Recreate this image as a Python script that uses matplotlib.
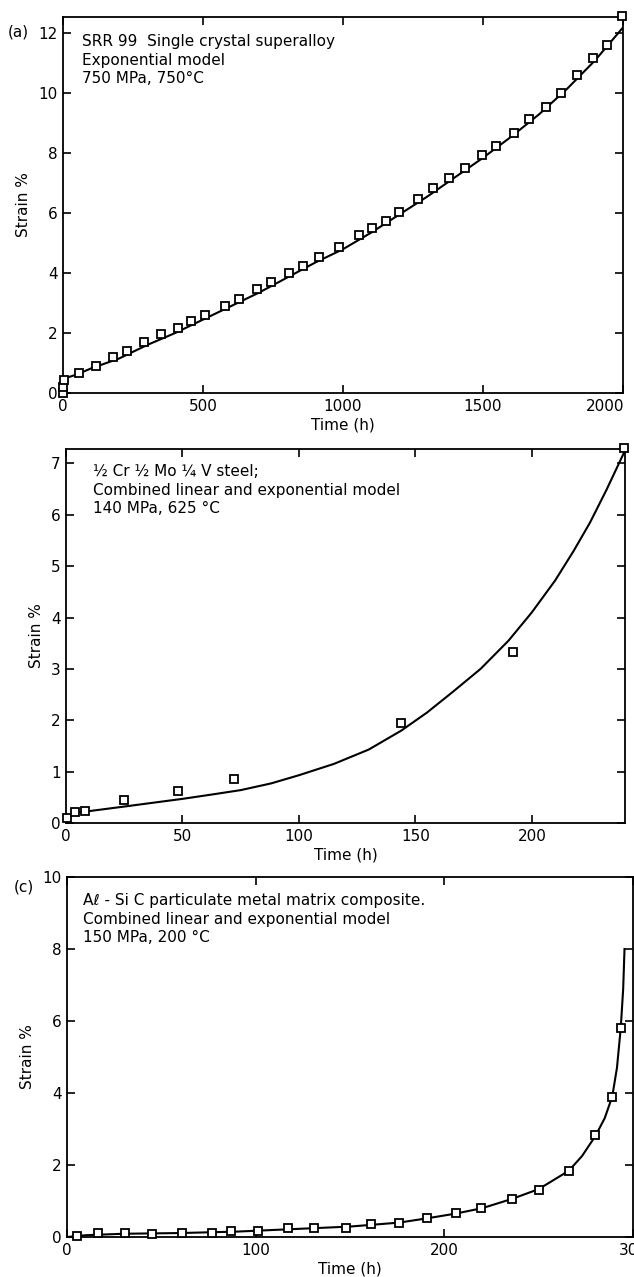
import matplotlib
matplotlib.use("Agg")
import matplotlib.pyplot as plt

# (a) SRR 99, exponential model
a_time = [0, 0.5, 2, 57, 117, 180, 228, 290, 350, 411, 457, 507, 578, 628, 692, 742,
          806, 856, 914, 986, 1057, 1104, 1153, 1200, 1268, 1321, 1379, 1436, 1496,
          1546, 1611, 1664, 1725, 1779, 1836, 1893, 1943, 1996]
a_strain = [0.0, 0.2, 0.45, 0.67, 0.9, 1.2, 1.4, 1.7, 1.97, 2.17, 2.4, 2.6, 2.9, 3.13,
            3.46, 3.7, 4.0, 4.23, 4.54, 4.87, 5.27, 5.5, 5.73, 6.03, 6.47, 6.83, 7.17,
            7.5, 7.93, 8.23, 8.67, 9.13, 9.53, 10.0, 10.63, 11.17, 11.63, 12.57]
a_fit_time = [0, 2, 6, 20, 50, 100, 200, 300, 400, 500, 600, 700, 800, 900, 1000,
              1100, 1200, 1300, 1400, 1500, 1600, 1700, 1800, 1900, 2000]
a_fit_strain = [0.0, 0.3, 0.45, 0.53, 0.62, 0.82, 1.15, 1.6, 2.0, 2.45, 2.9, 3.35,
                3.85, 4.35, 4.8, 5.35, 5.95, 6.55, 7.2, 7.85, 8.55, 9.3, 10.15, 11.1, 12.2]
a_xticks = [0, 500, 1000, 1500, 2000]

# (b) 1/2Cr 1/2Mo 1/4V steel
b_time = [0.4, 3.9, 8.1, 25, 48, 72, 144, 192, 239.5]
b_strain = [0.1, 0.21, 0.23, 0.45, 0.62, 0.86, 1.95, 3.33, 7.3]
b_fit_time = [0, 3, 8, 25, 50, 62, 75, 88, 100, 115, 130, 144, 155, 166, 178, 190,
              200, 210, 218, 225, 232, 240]
b_fit_strain = [0.1, 0.19, 0.22, 0.32, 0.47, 0.55, 0.64, 0.77, 0.93, 1.15, 1.43, 1.80,
                2.15, 2.55, 3.0, 3.55, 4.1, 4.72, 5.3, 5.85, 6.48, 7.25]

# (c) Al-SiC composite
c_time = [5.5, 16.6, 30.7, 45, 61, 77, 87, 101, 117, 131, 148, 161, 176, 191, 206,
          219.5, 236, 250, 266, 280, 289, 293.5]
c_strain = [0.03, 0.1, 0.12, 0.08, 0.12, 0.12, 0.17, 0.18, 0.24, 0.25, 0.26, 0.36,
            0.40, 0.53, 0.66, 0.8, 1.06, 1.31, 1.83, 2.82, 3.9, 5.8]
c_fit_time = [0, 10, 30, 60, 90, 120, 150, 176, 191, 206, 220, 236, 250, 266, 273,
              280, 285, 289, 291.5, 293.5, 294.8, 295.5]
c_fit_strain = [0.0, 0.05, 0.09, 0.11, 0.15, 0.22, 0.29, 0.40, 0.52, 0.65, 0.8, 1.06,
                1.33, 1.84, 2.25, 2.8, 3.3, 3.9, 4.7, 5.8, 6.9, 8.0]

plt.rcParams['font.family'] = ['DejaVu Sans']
plt.rcParams['font.size'] = 11

fig = plt.figure(figsize=(6.34, 12.77), dpi=100)
W, H = 634.0, 1277.0


def make_axes(left, right, top, bottom):
    return fig.add_axes([left / W, 1 - bottom / H, (right - left) / W, (bottom - top) / H])


def style(ax, xlim, ylim, xticks, yticks):
    ax.set_xlim(*xlim)
    ax.set_ylim(*ylim)
    ax.set_xticks(xticks)
    ax.set_yticks(yticks)
    ax.tick_params(direction='in', top=True, right=True, length=6, width=1.2,
                   labelsize=11, pad=4)
    for s in ax.spines.values():
        s.set_linewidth(1.3)
    ax.set_xlabel('Time (h)', fontsize=11, labelpad=3)
    ax.set_ylabel('Strain %', fontsize=11, labelpad=5)


def draw(ax, t, e, ft, fe):
    ax.plot(ft, fe, color='black', lw=1.5, zorder=2)
    ax.plot(t, e, 's', ms=5.5, mfc='white', mec='black', mew=1.3, ls='none',
            zorder=3, clip_on=False)


note = dict(va='top', ha='left', fontsize=11, linespacing=1.3)

ax1 = make_axes(63, 623, 17, 393)
draw(ax1, a_time, a_strain, a_fit_time, a_fit_strain)
style(ax1, (0, 2000), (0, 12.55), a_xticks, [0, 2, 4, 6, 8, 10, 12])
# last label sits flush with the right frame, as in the print
ax1.set_xticklabels([str(v) for v in a_xticks[:-1]] + [''])
ax1.annotate(str(a_xticks[-1]), xy=(a_xticks[-1], 0), xycoords=('data', 'axes fraction'),
             xytext=(1, -4), textcoords='offset points', ha='right', va='top', fontsize=11)
ax1.text(0.034, 0.955, 'SRR 99  Single crystal superalloy\nExponential model\n750 MPa, 750°C',
         transform=ax1.transAxes, **note)
fig.text(8 / W, 1 - 32 / H, '(a)', fontsize=11, va='center', ha='left')

ax2 = make_axes(66, 625, 449, 823)
draw(ax2, b_time, b_strain, b_fit_time, b_fit_strain)
style(ax2, (0, 240), (0, 7.28), [0, 50, 100, 150, 200], [0, 1, 2, 3, 4, 5, 6, 7])
ax2.text(0.048, 0.96, '½ Cr ½ Mo ¼ V steel;\nCombined linear and exponential model\n140 MPa, 625 °C',
         transform=ax2.transAxes, **note)

ax3 = make_axes(67, 633, 877, 1237)
draw(ax3, c_time, c_strain, c_fit_time, c_fit_strain)
style(ax3, (0, 299), (0, 10), [0, 100, 200, 300], [0, 2, 4, 6, 8, 10])
ax3.text(0.028, 0.955, 'Aℓ - Si C particulate metal matrix composite.\nCombined linear and exponential model\n150 MPa, 200 °C',
         transform=ax3.transAxes, **note)
fig.text(14 / W, 1 - 887 / H, '(c)', fontsize=11, va='center', ha='left')

fig.savefig('out.png', dpi=100)
